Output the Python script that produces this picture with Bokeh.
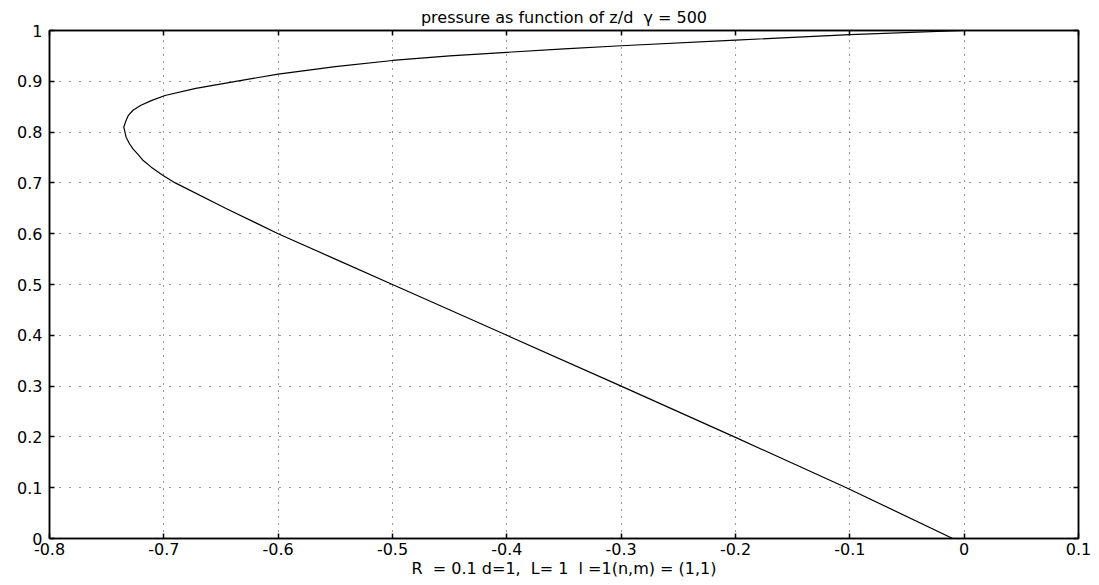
from bokeh.plotting import figure
from bokeh.models import Range1d, FixedTicker, LinearAxis, ColumnDataSource
from bokeh.embed import file_html
from bokeh.resources import INLINE

# data
z_values = [0.0, 0.1, 0.2, 0.3, 0.4, 0.5, 0.55, 0.6, 0.65, 0.7, 0.715, 0.731,
            0.744, 0.757, 0.767, 0.777, 0.79, 0.8, 0.81, 0.823, 0.833, 0.843,
            0.853, 0.862, 0.872, 0.886, 0.9, 0.914, 0.929, 0.941,
            0.950, 0.957, 0.964, 0.97, 0.981, 0.992, 1.0]
pressure = [-0.010, -0.103, -0.201, -0.300, -0.400, -0.500, -0.550, -0.600,
            -0.646, -0.690, -0.701, -0.711, -0.718, -0.723, -0.727, -0.730,
            -0.733, -0.734, -0.735, -0.733, -0.731, -0.727, -0.720, -0.711,
            -0.699, -0.672, -0.637, -0.600, -0.550, -0.500, -0.450,
            -0.400, -0.350, -0.300, -0.200, -0.100, 0.0]

x_ticks = [-0.8, -0.7, -0.6, -0.5, -0.4, -0.3, -0.2, -0.1, 0.0, 0.1]
x_tick_labels = ["-0.8", "-0.7", "-0.6", "-0.5", "-0.4", "-0.3", "-0.2", "-0.1", "0", "0.1"]
y_ticks = [0.0, 0.1, 0.2, 0.3, 0.4, 0.5, 0.6, 0.7, 0.8, 0.9, 1.0]
y_tick_labels = ["0", "0.1", "0.2", "0.3", "0.4", "0.5", "0.6", "0.7", "0.8", "0.9", "1"]

NB = "\u00a0"
title_text = "pressure as function of z/d " + NB + "\u03b3 = 500"
x_label = "R " + NB + "= 0.1 d=1, " + NB + "L= 1 " + NB + "l =1(n,m) = (1,1)"

FONT = "DejaVu Sans"

p = figure(width=1099, height=585, output_backend="svg", toolbar_location=None,
           x_range=Range1d(-0.8, 0.1), y_range=Range1d(0, 1),
           min_border_left=49, min_border_right=21, min_border_top=30,
           min_border_bottom=47, background_fill_color="white",
           border_fill_color="white", outline_line_color="black",
           outline_line_width=1.5)

p.title.text = title_text
p.title.align = "center"
p.title.text_font = FONT
p.title.text_font_size = "16px"
p.title.text_font_style = "normal"
p.title.text_color = "black"
p.title.standoff = 7

src = ColumnDataSource(dict(x=pressure, y=z_values))
p.line("x", "y", source=src, line_color="black", line_width=1.2,
       line_join="round")

def style_axis(ax, labels=True):
    ax.axis_line_color = "black"
    ax.axis_line_width = 1.5
    ax.major_tick_in = 5
    ax.major_tick_out = 0
    ax.major_tick_line_color = "black"
    ax.major_tick_line_width = 1.5
    ax.minor_tick_line_color = None
    ax.major_label_text_font = FONT
    ax.major_label_text_font_size = "16px"
    ax.major_label_text_color = "black"
    if not labels:
        ax.major_label_text_font_size = "0px"
        ax.major_label_standoff = 0

xa = p.xaxis[0]
xa.ticker = FixedTicker(ticks=x_ticks)
xa.major_label_overrides = dict(zip(x_ticks, x_tick_labels))
style_axis(xa)
xa.major_label_standoff = 4
xa.axis_label = x_label
xa.axis_label_text_font = FONT
xa.axis_label_text_font_size = "16px"
xa.axis_label_text_font_style = "normal"
xa.axis_label_text_color = "black"
xa.axis_label_standoff = 1

ya = p.yaxis[0]
ya.ticker = FixedTicker(ticks=y_ticks)
ya.major_label_overrides = dict(zip(y_ticks, y_tick_labels))
style_axis(ya)
ya.major_label_standoff = 7

top = LinearAxis(ticker=FixedTicker(ticks=x_ticks))
style_axis(top, labels=False)
top.major_label_overrides = {t: "" for t in x_ticks}
p.add_layout(top, "above")
right = LinearAxis(ticker=FixedTicker(ticks=y_ticks))
style_axis(right, labels=False)
right.major_label_overrides = {t: "" for t in y_ticks}
p.add_layout(right, "right")

p.xgrid.ticker = FixedTicker(ticks=x_ticks)
p.ygrid.ticker = FixedTicker(ticks=y_ticks)
p.xgrid.grid_line_color = "#333333"
p.xgrid.grid_line_dash = "1 6"
p.xgrid.grid_line_width = 1
p.ygrid.grid_line_color = "#333333"
p.ygrid.grid_line_dash = "1 9"
p.ygrid.grid_line_width = 1

open("out.html", "w").write(file_html(p, INLINE))
